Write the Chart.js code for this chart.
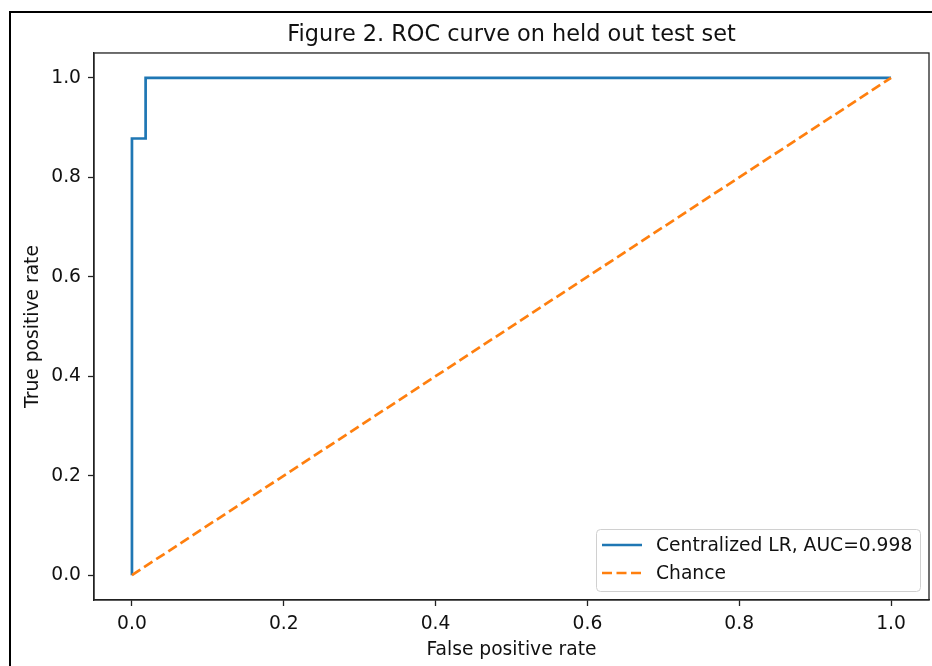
<!DOCTYPE html>
<html>
<head>
<meta charset="utf-8">
<script src="https://cdn.jsdelivr.net/npm/chart.js@4.4.1/dist/chart.umd.min.js"></script>
<style>
  html, body { margin: 0; padding: 0; background: #fff; }
  #wrap { width: 932px; height: 666px; position: relative; }
</style>
</head>
<body>
<div id="wrap"><canvas id="roc"></canvas></div>
<script>
// ROC curve points
const fpr = [0, 0, 0.018, 0.018, 1];
const tpr = [0, 0.878, 0.878, 1, 1];
const chanceX = [0, 1];
const chanceY = [0, 1];
const tickVals = [0, 0.2, 0.4, 0.6, 0.8, 1.0];
const seriesLabels = ['Centralized LR, AUC=0.998', 'Chance'];

const FONT = "'DejaVu Sans', sans-serif";
const BLUE = '#1f77b4';
const ORANGE = '#ff7f0e';
const LBL = 18.7;

// outer black frame of the figure + box around the axes
const framePlugin = {
    id: 'frame',
    beforeDraw(chart) {
        const c = chart.ctx;
        c.save();
        c.fillStyle = '#fff';
        c.fillRect(0, 0, chart.width, chart.height);
        c.strokeStyle = '#000';
        c.lineWidth = 2;
        c.beginPath();
        c.moveTo(10, chart.height);
        c.lineTo(10, 12);
        c.lineTo(chart.width, 12);
        c.stroke();
        c.restore();
    },
    afterDraw(chart) {
        const a = chart.chartArea;
        const c = chart.ctx;
        c.save();
        c.strokeStyle = '#222';
        c.lineWidth = 1.3;
        c.strokeRect(a.left, a.top, a.right - a.left, a.bottom - a.top);
        c.restore();
    }
};

// matplotlib style legend in the lower right corner
const legendPlugin = {
    id: 'mplLegend',
    afterDraw(chart) {
        const c = chart.ctx;
        const a = chart.chartArea;
        const w = 324, h = 62;
        const x = a.right - 9 - w, y = a.bottom - 9 - h;
        c.save();
        c.fillStyle = 'rgba(255,255,255,0.8)';
        c.strokeStyle = '#d0d0d0';
        c.lineWidth = 1;
        c.beginPath();
        c.roundRect(x + 0.5, y + 0.5, w, h, 4);
        c.fill();
        c.stroke();
        c.font = LBL + 'px ' + FONT;
        c.textBaseline = 'middle';
        chart.data.datasets.forEach((ds, i) => {
            const ly = y + 16 + i * 28;
            c.strokeStyle = ds.borderColor;
            c.lineWidth = ds.borderWidth;
            c.setLineDash(ds.borderDash || []);
            c.beginPath();
            c.moveTo(x + 6, ly);
            c.lineTo(x + 46, ly);
            c.stroke();
            c.setLineDash([]);
            c.fillStyle = '#111';
            c.fillText(ds.label, x + 60, ly + 1);
        });
        c.restore();
    }
};

const toPts = (xs, ys) => xs.map((v, i) => ({ x: v, y: ys[i] }));

const axisCommon = {
    type: 'linear',
    min: -0.05,
    max: 1.05,
    afterBuildTicks: s => { s.ticks = tickVals.map(v => ({ value: v })); },
    border: { display: true, color: '#222', width: 1.3 },
    grid: { drawOnChartArea: false, drawTicks: true, tickLength: 6, tickWidth: 1.3, tickColor: '#222' },
    ticks: {
        color: '#111',
        font: { family: FONT, size: LBL },
        callback: v => Number(v).toFixed(1),
        maxRotation: 0,
        autoSkip: false
    }
};

new Chart(document.getElementById('roc'), {
    type: 'scatter',
    data: {
        datasets: [
            {
                label: seriesLabels[0],
                data: toPts(fpr, tpr),
                showLine: true,
                borderColor: BLUE,
                borderWidth: 2.7,
                pointRadius: 0,
                tension: 0,
                order: 1
            },
            {
                label: seriesLabels[1],
                data: toPts(chanceX, chanceY),
                showLine: true,
                borderColor: ORANGE,
                borderWidth: 2.7,
                borderDash: [10, 4.5],
                pointRadius: 0,
                tension: 0,
                order: 0
            }
        ]
    },
    options: {
        responsive: true,
        maintainAspectRatio: false,
        animation: false,
        layout: { padding: { left: 0, right: 3, top: 0, bottom: 0 } },
        plugins: {
            legend: { display: false },
            tooltip: { enabled: false },
            title: {
                display: true,
                text: 'Figure 2. ROC curve on held out test set',
                fullSize: false,
                color: '#111',
                font: { family: FONT, size: 22.4, weight: 'normal' },
                padding: { top: 21.5, bottom: 4.6 }
            }
        },
        scales: {
            x: Object.assign({}, axisCommon, {
                position: 'bottom',
                ticks: Object.assign({}, axisCommon.ticks, { padding: 7 }),
                title: { display: true, text: 'False positive rate', color: '#111', font: { family: FONT, size: LBL }, padding: { top: 0, bottom: 5 } },
                afterFit: s => { s.height = 66; }
            }),
            y: Object.assign({}, axisCommon, {
                position: 'left',
                ticks: Object.assign({}, axisCommon.ticks, { padding: 7 }),
                title: { display: true, text: 'True positive rate', color: '#111', font: { family: FONT, size: LBL }, padding: { top: 22, bottom: 0 } },
                afterFit: s => { s.width = 94; }
            })
        }
    },
    plugins: [framePlugin, legendPlugin]
});
</script>
</body>
</html>
